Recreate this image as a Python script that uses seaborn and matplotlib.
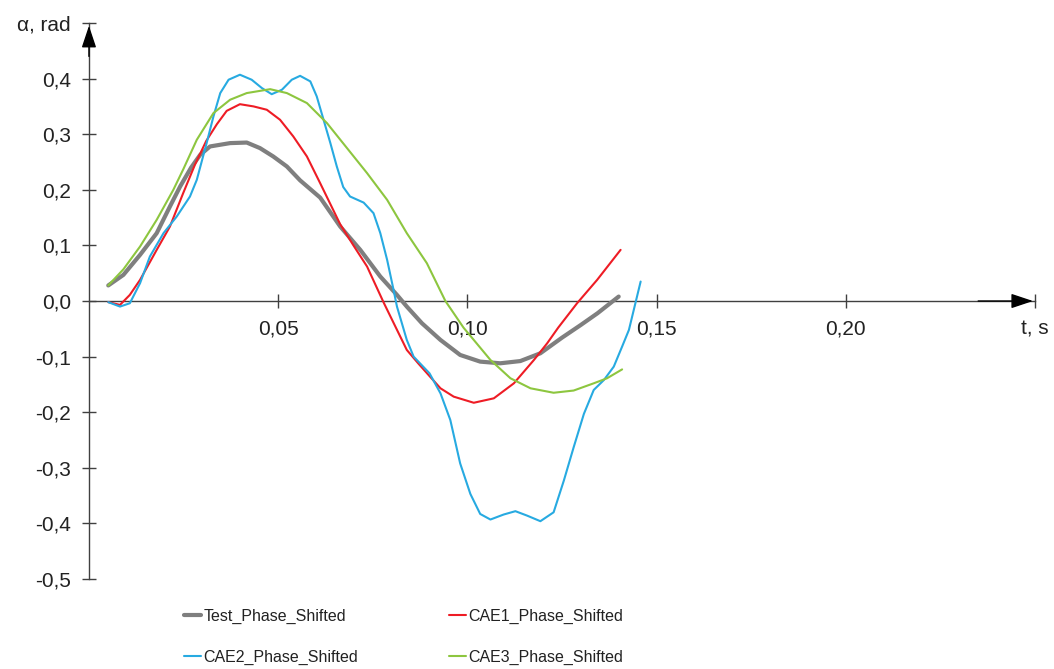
import matplotlib
matplotlib.use("Agg")
import matplotlib.pyplot as plt
import numpy as np
import pandas as pd
import seaborn as sns

sns.set_style("white")
plt.rcParams["font.family"] = ["Liberation Sans", "DejaVu Sans"]
plt.rcParams["font.size"] = 15

# values (t in s, alpha in rad)
test_t = [0.0051, 0.0091, 0.0135, 0.0179, 0.0214, 0.0241, 0.0270, 0.0294, 0.0320, 0.0373,
          0.0417, 0.0452, 0.0487, 0.0523, 0.0558, 0.0611, 0.0664, 0.0717, 0.0770, 0.0814,
          0.0840, 0.0880, 0.0929, 0.0981, 0.1034, 0.1087, 0.1140, 0.1193, 0.1250, 0.1300,
          0.1344, 0.1400]
test_a = [0.028, 0.047, 0.083, 0.122, 0.170, 0.206, 0.240, 0.263, 0.278, 0.284,
          0.285, 0.275, 0.260, 0.242, 0.217, 0.186, 0.134, 0.092, 0.044, 0.011,
          -0.010, -0.040, -0.070, -0.097, -0.109, -0.112, -0.108, -0.094, -0.066, -0.043,
          -0.022, 0.008]

cae1_t = [0.0051, 0.0082, 0.0108, 0.0135, 0.0179, 0.0214, 0.0249, 0.0280, 0.0310, 0.0338,
          0.0364, 0.0399, 0.0435, 0.0470, 0.0505, 0.0540, 0.0576, 0.0611, 0.0664, 0.0699,
          0.0735, 0.0779, 0.0840, 0.0870, 0.0900, 0.0929, 0.0964, 0.1017, 0.1070, 0.1123,
          0.1176, 0.1211, 0.1240, 0.1290, 0.1343, 0.1405]
cae1_a = [-0.002, -0.007, 0.011, 0.038, 0.092, 0.134, 0.194, 0.245, 0.288, 0.318,
          0.342, 0.354, 0.350, 0.344, 0.326, 0.296, 0.260, 0.212, 0.138, 0.100,
          0.062, -0.003, -0.088, -0.112, -0.135, -0.157, -0.172, -0.183, -0.175, -0.148,
          -0.106, -0.076, -0.048, -0.004, 0.038, 0.092]

cae2_t = [0.0051, 0.0082, 0.0108, 0.0135, 0.0161, 0.0197, 0.0232, 0.0267, 0.0285, 0.0311,
          0.0329, 0.0347, 0.0369, 0.0399, 0.0430, 0.0457, 0.0483, 0.0510, 0.0536, 0.0558,
          0.0585, 0.0602, 0.0620, 0.0638, 0.0655, 0.0672, 0.0690, 0.0726, 0.0752, 0.0770,
          0.0788, 0.0805, 0.0814, 0.0840, 0.0858, 0.0900, 0.0929, 0.0955, 0.0981, 0.1008,
          0.1034, 0.1061, 0.1096, 0.1127, 0.1158, 0.1193, 0.1228, 0.1255, 0.1281, 0.1308,
          0.1334, 0.1361, 0.1387, 0.1409, 0.1427, 0.1458]
cae2_a = [-0.002, -0.010, -0.004, 0.032, 0.080, 0.122, 0.152, 0.188, 0.218, 0.284,
          0.332, 0.374, 0.398, 0.407, 0.398, 0.383, 0.372, 0.380, 0.398, 0.405,
          0.395, 0.368, 0.326, 0.284, 0.242, 0.205, 0.188, 0.177, 0.158, 0.122,
          0.074, 0.020, -0.010, -0.070, -0.100, -0.130, -0.166, -0.214, -0.292, -0.347,
          -0.383, -0.393, -0.384, -0.378, -0.386, -0.396, -0.380, -0.323, -0.263, -0.203,
          -0.160, -0.142, -0.118, -0.082, -0.052, 0.035]

cae3_t = [0.0051, 0.0091, 0.0135, 0.0179, 0.0223, 0.0250, 0.0285, 0.0329, 0.0373, 0.0417,
          0.0479, 0.0523, 0.0576, 0.0629, 0.0682, 0.0735, 0.0788, 0.0840, 0.0893, 0.0942,
          0.0990, 0.1017, 0.1061, 0.1114, 0.1167, 0.1228, 0.1281, 0.1334, 0.1369, 0.1409]
cae3_a = [0.028, 0.057, 0.098, 0.146, 0.200, 0.238, 0.290, 0.338, 0.362, 0.374,
          0.381, 0.374, 0.356, 0.320, 0.275, 0.230, 0.182, 0.122, 0.068, 0.000,
          -0.048, -0.070, -0.106, -0.139, -0.157, -0.165, -0.161, -0.148, -0.139, -0.123]

names = ["Test_Phase_Shifted", "CAE1_Phase_Shifted", "CAE2_Phase_Shifted", "CAE3_Phase_Shifted"]
colors = ["#7f7f7f", "#ee1c25", "#27aae1", "#8dc63f"]
widths = [3.0, 1.5, 1.5, 1.5]

yticks = [-0.5, -0.4, -0.3, -0.2, -0.1, 0.0, 0.1, 0.2, 0.3, 0.4, 0.5]
ylabels = ["-0,5", "-0,4", "-0,3", "-0,2", "-0,1", "0,0", "0,1", "0,2", "0,3", "0,4", "α, rad"]
xticks = [0.05, 0.10, 0.15, 0.20, 0.25]
xlabels = ["0,05", "0,10", "0,15", "0,20", "t, s"]

fig = plt.figure(figsize=(10.54, 6.69), dpi=100)
ax = fig.add_axes([0.0844, 0.1345, 0.8975, 0.8311])
axcol = "#404040"

series = [(test_t, test_a), (cae1_t, cae1_a), (cae2_t, cae2_a), (cae3_t, cae3_a)]
for (t, a), nm, c, w in zip(series, names, colors, widths):
    df = pd.DataFrame({"t": t, "alpha": a})
    sns.lineplot(data=df, x="t", y="alpha", color=c, lw=w, label=nm, ax=ax, zorder=3)

ax.set_xlim(0, 0.25)
ax.set_ylim(-0.5, 0.5)
ax.spines["top"].set_visible(False)
ax.spines["right"].set_visible(False)
ax.spines["bottom"].set_position(("data", 0))
ax.spines["left"].set_position(("data", 0))
for s in ["bottom", "left"]:
    ax.spines[s].set_color(axcol)
    ax.spines[s].set_linewidth(1.0)

ax.set_yticks(yticks)
ax.set_yticklabels(ylabels)
ax.set_xticks(xticks)
ax.set_xticklabels(xlabels)
ax.tick_params(axis="both", direction="inout", length=10, width=1.0, color=axcol,
               labelcolor="#222222", labelsize=15, pad=8, bottom=True, left=True)
ax.set_xlabel("")
ax.set_ylabel("")

# axis arrows
arrow = dict(arrowstyle="-|>,head_length=0.9,head_width=0.3", color="black",
             lw=1.0, shrinkA=0, shrinkB=0, mutation_scale=15)
ax.annotate("", xy=(0, 0.495), xytext=(0, 0.44), arrowprops=arrow, annotation_clip=False)
ax.annotate("", xy=(0.2495, 0), xytext=(0.235, 0), arrowprops=arrow, annotation_clip=False)

ax.get_legend().remove()
handles, labels = ax.get_legend_handles_labels()
order = [0, 2, 1, 3]  # legend fills column-wise; reference reads row-wise
leg = fig.legend([handles[i] for i in order], [labels[i] for i in order],
                 loc="upper left", bbox_to_anchor=(176 / 1054, 1 - 601 / 669),
                 ncol=2, frameon=False, borderpad=0, handlelength=1.05, handletextpad=0.15,
                 labelspacing=1.6, columnspacing=5.7, fontsize=11.5)
for txt in leg.get_texts():
    txt.set_color("#222222")

fig.savefig("out.png", dpi=100)
